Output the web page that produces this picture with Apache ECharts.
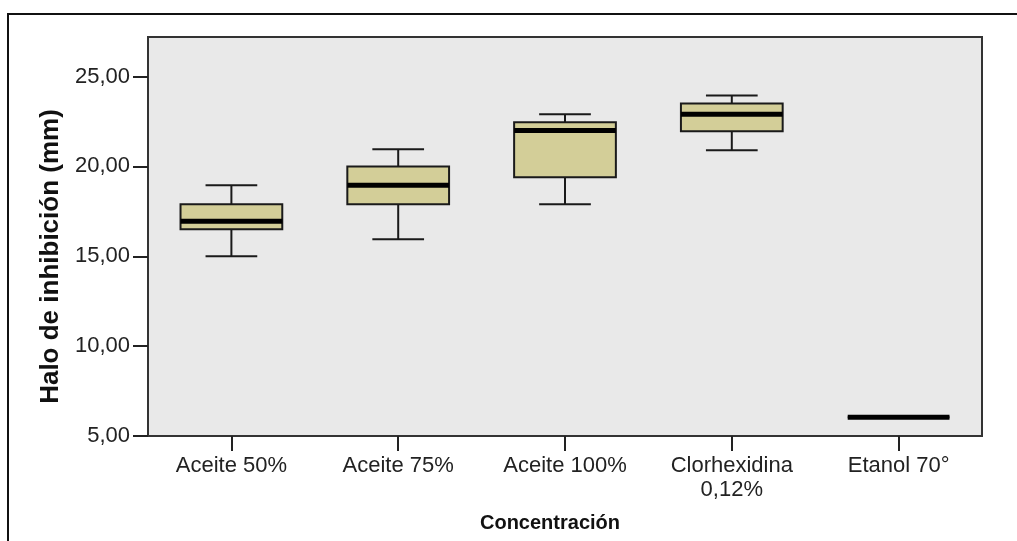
<!DOCTYPE html>
<html>
<head>
<meta charset="utf-8">
<script src="https://cdn.jsdelivr.net/npm/echarts@6/dist/echarts.min.js"></script>
<style>
  html, body { margin: 0; padding: 0; background: #fff; }
  #main { width: 1017px; height: 541px; }
</style>
</head>
<body>
<div id="main"></div>
<script>
// categorias del eje X
const categorias = ['Aceite 50%', 'Aceite 75%', 'Aceite 100%', 'Clorhexidina\n0,12%', 'Etanol 70°'];
// estadisticos de cada caja (mm)
const minimos  = [15.0, 15.95, 17.9, 20.9, 6.05];
const q1       = [16.5, 17.9, 19.4, 21.95, 6.05];
const medianas = [16.95, 18.95, 22.0, 22.9, 6.05];
const q3       = [17.9, 20.0, 22.45, 23.5, 6.05];
const maximos  = [18.95, 20.95, 22.9, 23.95, 6.05];
// marcas del eje Y
const ticksY = [5, 10, 15, 20, 25];

const datos = categorias.map((c, i) => [i, minimos[i], q1[i], medianas[i], q3[i], maximos[i]]);

const chart = echarts.init(document.getElementById('main'));

// dibuja una caja estilo SPSS
const renderItem = (params, api) => {
    const x = api.value(0);
    const band = api.size([1, 0])[0];
    const boxW = band * 0.61;
    const capW = band * 0.31;
    const pMin = api.coord([x, api.value(1)]);
    const pQ1 = api.coord([x, api.value(2)]);
    const pMed = api.coord([x, api.value(3)]);
    const pQ3 = api.coord([x, api.value(4)]);
    const pMax = api.coord([x, api.value(5)]);
    const cx = pMed[0];
    const lineStyle = { stroke: '#1a1a1a', lineWidth: 2 };
    return {
        type: 'group',
        children: [
            { type: 'line', shape: { x1: cx, y1: pMin[1], x2: cx, y2: pQ1[1] }, style: lineStyle },
            { type: 'line', shape: { x1: cx, y1: pQ3[1], x2: cx, y2: pMax[1] }, style: lineStyle },
            { type: 'line', shape: { x1: cx - capW / 2, y1: pMin[1], x2: cx + capW / 2, y2: pMin[1] }, style: lineStyle },
            { type: 'line', shape: { x1: cx - capW / 2, y1: pMax[1], x2: cx + capW / 2, y2: pMax[1] }, style: lineStyle },
            {
                type: 'rect',
                shape: { x: cx - boxW / 2, y: pQ3[1], width: boxW, height: pQ1[1] - pQ3[1] },
                style: { fill: '#d3ce98', stroke: '#1a1a1a', lineWidth: 2 }
            },
            {
                type: 'line',
                shape: { x1: cx - boxW / 2, y1: pMed[1], x2: cx + boxW / 2, y2: pMed[1] },
                style: { stroke: '#000', lineWidth: 5 }
            }
        ]
    };
};

const option = {
    animation: false,
    backgroundColor: '#fff',
    grid: {
        left: 148, top: 37, right: 35, bottom: 105,
        show: true,
        backgroundColor: '#e9e9e9',
        borderColor: '#333',
        borderWidth: 2
    },
    graphic: [{
        type: 'rect',
        shape: { x: 8, y: 14, width: 1200, height: 800 },
        style: { fill: null, stroke: '#111', lineWidth: 2 },
        silent: true
    }],
    xAxis: {
        type: 'category',
        data: categorias,
        boundaryGap: true,
        name: 'Concentración',
        nameLocation: 'middle',
        nameGap: 77,
        nameTextStyle: {
            fontFamily: 'Liberation Sans', fontWeight: 'bold', fontSize: 20, color: '#111',
            padding: [0, 30, 0, 0]
        },
        axisLine: { show: true, lineStyle: { color: '#333', width: 2 } },
        axisTick: { show: true, alignWithLabel: true, length: 15, lineStyle: { color: '#222', width: 2 } },
        axisLabel: {
            fontFamily: 'Liberation Sans', fontSize: 22, color: '#222',
            margin: 18, lineHeight: 24, interval: 0
        },
        splitLine: { show: false }
    },
    yAxis: {
        type: 'value',
        min: 5,
        max: 27.2,
        interval: 5,
        name: 'Halo de inhibición (mm)',
        nameLocation: 'middle',
        nameGap: 77,
        nameRotate: 90,
        nameTextStyle: {
            fontFamily: 'Liberation Sans', fontWeight: 'bold', fontSize: 26, color: '#111',
            padding: [0, 40, 0, 0]
        },
        axisLine: { show: true, lineStyle: { color: '#333', width: 2 } },
        axisTick: { show: true, length: 15, customValues: ticksY, lineStyle: { color: '#222', width: 2 } },
        axisLabel: {
            fontFamily: 'Liberation Sans', fontSize: 22, color: '#222', margin: 18,
            padding: [6, 0, 0, 0],
            customValues: ticksY,
            formatter: v => v.toFixed(2).replace('.', ',')
        },
        splitLine: { show: false }
    },
    series: [{
        type: 'custom',
        renderItem: renderItem,
        encode: { x: 0, y: [1, 2, 3, 4, 5] },
        data: datos,
        clip: false
    }]
};

chart.setOption(option);
</script>
</body>
</html>
